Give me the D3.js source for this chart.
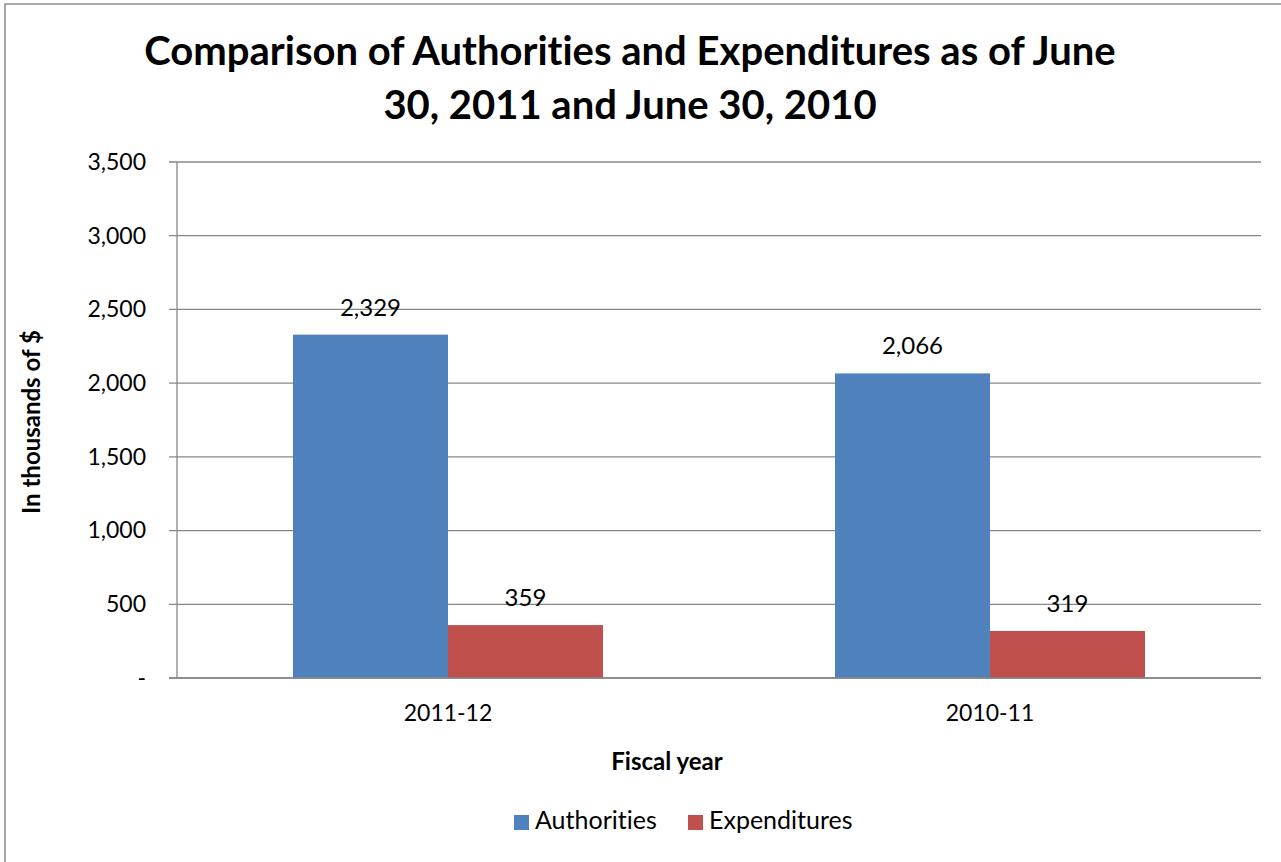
<!DOCTYPE html>
<html>
<head>
<meta charset="utf-8">
<script src="https://cdn.jsdelivr.net/npm/d3@7"></script>
<style>
  html, body { margin: 0; padding: 0; background: #fff; }
  svg { display: block; font-family: Lato, "Open Sans", sans-serif; font-variant-ligatures: none; }
</style>
</head>
<body>
<svg id="chart" width="1281" height="862"></svg>
<script>
const titleLines = ["Comparison of Authorities and Expenditures as of June", "30, 2011 and June 30, 2010"];
const categories = ["2011-12", "2010-11"];
const seriesNames = ["Authorities", "Expenditures"];
const authorities = [2329, 2066];
const expenditures = [359, 319];
const seriesColors = ["#4F81BD", "#C0504D"];
const yTicks = [0, 500, 1000, 1500, 2000, 2500, 3000, 3500];
const yAxisTitle = "In thousands of $";
const xAxisTitle = "Fiscal year";

const svg = d3.select("#chart");
const plot = { left: 177, right: 1261, top: 162, bottom: 678 };

// outer border (chart is cropped on right and bottom)
svg.append("rect")
  .attr("x", 5).attr("y", 4).attr("width", 1300).attr("height", 900)
  .attr("fill", "#fff").attr("stroke", "#8c8c8c").attr("stroke-width", 1.5);

const y = d3.scaleLinear().domain([0, 3500]).range([plot.bottom, plot.top]);
const x0 = d3.scaleBand().domain(categories).range([plot.left, plot.right])
  .paddingInner(0.428).paddingOuter(0.214);
const x1 = d3.scaleBand().domain(seriesNames).range([0, x0.bandwidth()]);

const fmt = d => d === 0 ? "-" : d3.format(",")(d);

// gridlines
svg.append("g").selectAll("line").data(yTicks).join("line")
  .attr("x1", plot.left - 8).attr("x2", plot.right)
  .attr("y1", d => y(d)).attr("y2", d => y(d))
  .attr("stroke", "#878787").attr("stroke-width", 1.3);

// y axis line
svg.append("line")
  .attr("x1", plot.left).attr("x2", plot.left)
  .attr("y1", plot.top).attr("y2", plot.bottom)
  .attr("stroke", "#878787").attr("stroke-width", 1.3);

// y tick labels
svg.append("g").selectAll("text").data(yTicks).join("text")
  .attr("x", 146).attr("y", d => y(d)).attr("dy", "0.34em")
  .attr("text-anchor", "end").attr("font-size", 23).attr("fill", "#000")
  .text(fmt);

// bars
const rows = categories.map((c, i) => ({ cat: c, values: [authorities[i], expenditures[i]] }));
const groups = svg.append("g").selectAll("g").data(rows).join("g")
  .attr("transform", d => `translate(${x0(d.cat)},0)`);

groups.selectAll("rect").data(d => d.values.map((v, j) => ({ name: seriesNames[j], v, j })))
  .join("rect")
  .attr("x", d => x1(d.name)).attr("width", x1.bandwidth())
  .attr("y", d => y(d.v)).attr("height", d => y(0) - y(d.v))
  .attr("fill", d => seriesColors[d.j]);

groups.selectAll("text").data(d => d.values.map((v, j) => ({ name: seriesNames[j], v, j })))
  .join("text")
  .attr("x", d => x1(d.name) + x1.bandwidth() / 2)
  .attr("y", d => y(d.v) - 19)
  .attr("text-anchor", "middle").attr("font-size", 24).attr("fill", "#000")
  .text(d => d3.format(",")(d.v));

// x axis line
svg.append("line")
  .attr("x1", plot.left - 8).attr("x2", plot.right)
  .attr("y1", plot.bottom).attr("y2", plot.bottom)
  .attr("stroke", "#878787").attr("stroke-width", 1.3);

// x tick labels
svg.append("g").selectAll("text").data(categories).join("text")
  .attr("x", d => x0(d) + x0.bandwidth() / 2).attr("y", 721)
  .attr("text-anchor", "middle").attr("font-size", 23).attr("fill", "#000")
  .text(d => d);

// axis titles
svg.append("text")
  .attr("x", 667).attr("y", 770).attr("text-anchor", "middle")
  .attr("font-size", 24).attr("font-weight", "bold").text(xAxisTitle);

svg.append("text")
  .attr("transform", "translate(40,422) rotate(-90)")
  .attr("text-anchor", "middle")
  .attr("font-size", 24).attr("font-weight", "bold").text(yAxisTitle);

// title
svg.append("g").selectAll("text").data(titleLines).join("text")
  .attr("x", 630).attr("y", (d, i) => 65 + i * 54)
  .attr("text-anchor", "middle").attr("font-size", 40).attr("font-weight", "bold")
  .text(d => d);

// legend
const legendItems = [
  { name: seriesNames[0], color: seriesColors[0], x: 514 },
  { name: seriesNames[1], color: seriesColors[1], x: 688 }
];
const lg = svg.append("g").selectAll("g").data(legendItems).join("g")
  .attr("transform", d => `translate(${d.x},815)`);
lg.append("rect").attr("width", 15).attr("height", 15).attr("fill", d => d.color);
lg.append("text").attr("x", 21).attr("y", 14).attr("font-size", 25).text(d => d.name);
</script>
</body>
</html>
